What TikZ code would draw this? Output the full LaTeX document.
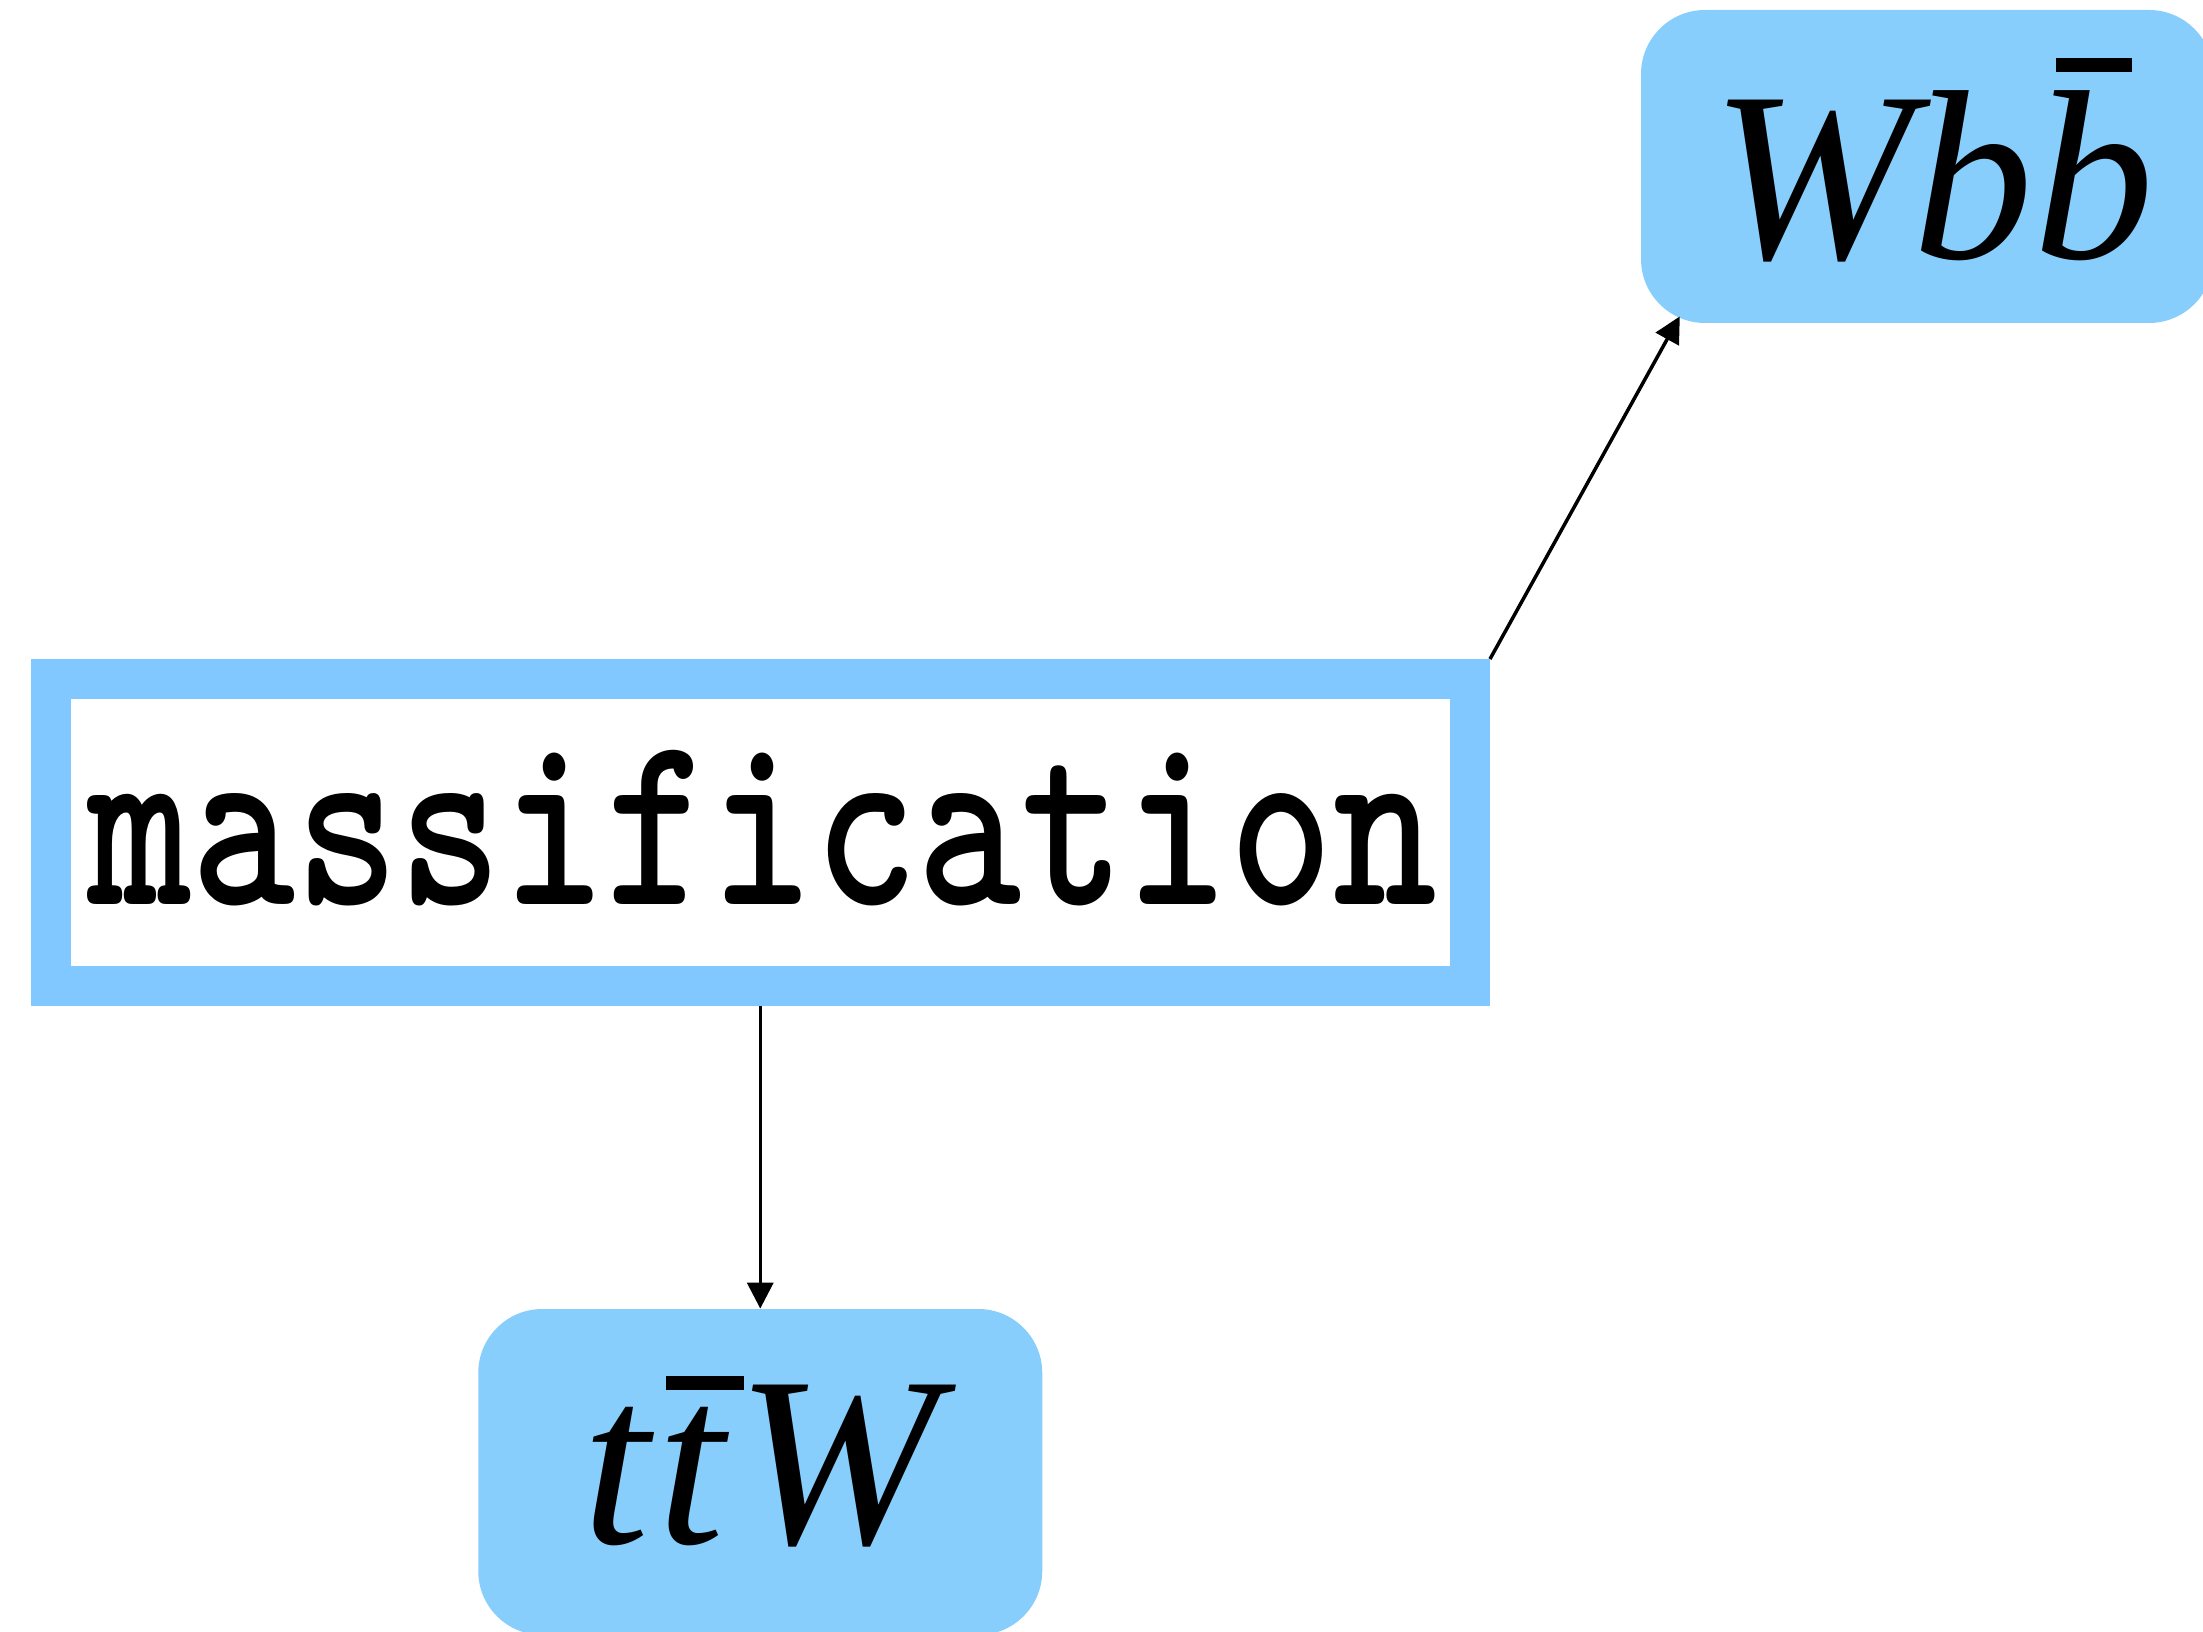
\documentclass[tikz,border=0pt]{standalone}
\usepackage{fontspec}
\usepackage{graphicx}
\newfontfamily\tms{Liberation Serif}
\usetikzlibrary{arrows.meta}
\definecolor{boxfill}{RGB}{136,206,252}
\definecolor{boxline}{RGB}{128,200,255}
\begin{document}
\begin{tikzpicture}[x=0.5pt,y=-0.5pt,
  proc/.style={draw=boxline, line width=20pt, fill=white, rectangle,
    minimum width=709.75pt, minimum height=153.5pt, inner sep=0pt},
  term/.style={fill=boxfill, rounded corners=32pt, rectangle, inner sep=0pt},
  conn/.style={draw=black, line width=1.75pt, -{Triangle[width=13pt,length=13pt]}}]
\useasboundingbox (0,0) rectangle (2203,1631);
\node[proc] (mass) at (760.25,832.5)
  {\raisebox{5pt}{\hspace{2pt}\fontsize{125}{125}\selectfont\ttfamily\bfseries\scalebox{0.791}[1]{massification}}};
\node[term, minimum width=286pt, minimum height=156.5pt] (wbb) at (1927,166.5)
  {\raisebox{8pt}{\fontsize{121}{121}\selectfont\tms\itshape\hspace{6pt}Wb\rlap{\hspace{11pt}\rule[93pt]{38pt}{7pt}}b}};
\node[term, minimum width=282pt, minimum height=163pt] (ttw) at (760.25,1472)
  {\raisebox{12.5pt}{\fontsize{121}{121}\selectfont\tms\itshape t\kern4pt\rlap{\hspace{4pt}\rule[76.5pt]{39pt}{7pt}}t\kern5.5pt W}};
\draw[conn] (mass.south) -- (ttw.north);
\draw[conn, shorten >=-4pt] (mass.north east) -- (wbb.212.5);
\end{tikzpicture}
\end{document}
